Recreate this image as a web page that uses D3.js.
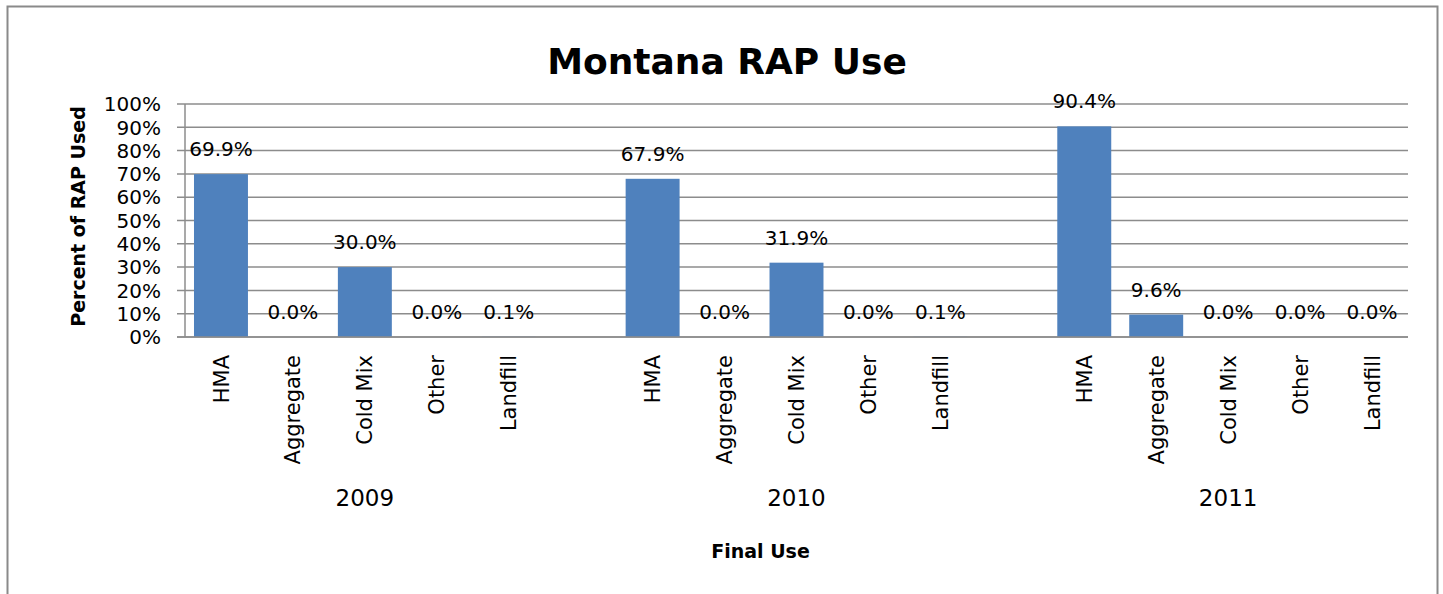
<!DOCTYPE html>
<html>
<head>
<meta charset="utf-8">
<script src="https://cdn.jsdelivr.net/npm/d3@7"></script>
<style>
  body { margin: 0; background: #fff; }
  text { font-family: 'DejaVu Sans', sans-serif; fill: #000; }
</style>
</head>
<body>
<svg id="drawing_region"></svg>
<script>
// chart data
const years = ['2009', '2010', '2011'];
const uses = ['HMA', 'Aggregate', 'Cold Mix', 'Other', 'Landfill'];
const values2009 = [69.9, 0.0, 30.0, 0.0, 0.1];
const values2010 = [67.9, 0.0, 31.9, 0.0, 0.1];
const values2011 = [90.4, 9.6, 0.0, 0.0, 0.0];
const yTicks = [0, 10, 20, 30, 40, 50, 60, 70, 80, 90, 100];

const valuesByYear = [values2009, values2010, values2011];

let data = [];
let keys = [];
years.forEach((year, i) => {
    uses.forEach((use, j) => {
        let key = year + '|' + use;
        keys.push(key);
        data.push({ key: key, year: year, use: use, value: valuesByYear[i][j] });
    });
    if (i < years.length - 1) keys.push('gap' + i);
});

const config = {
    width: 1443,
    height: 594,
    margin: { left: 185, right: 35, top: 104, bottom: 257 },
};

const svg = d3.select('#drawing_region')
    .attr('width', config.width)
    .attr('height', config.height);

// outer chart border
svg.append('rect')
    .attr('x', 7.5)
    .attr('y', 6.5)
    .attr('width', 1430)
    .attr('height', 600)
    .attr('fill', 'none')
    .attr('stroke', '#8a8a8a')
    .attr('stroke-width', 2);

const x0 = config.margin.left;
const x1 = config.width - config.margin.right;
const y0 = config.height - config.margin.bottom;
const y1 = config.margin.top;

const xscale = d3.scaleBand()
    .domain(keys)
    .range([x0, x1])
    .paddingInner(0.25)
    .paddingOuter(0.125);

const yscale = d3.scaleLinear()
    .domain([0, 100])
    .range([y0, y1]);

// gridlines
svg.append('g')
    .selectAll('line')
    .data(yTicks)
    .enter()
    .append('line')
    .attr('x1', x0 - 8)
    .attr('x2', x1)
    .attr('y1', d => yscale(d))
    .attr('y2', d => yscale(d))
    .attr('stroke', '#8c8c8c')
    .attr('stroke-width', 1.5);

// y axis line
svg.append('line')
    .attr('x1', x0).attr('x2', x0)
    .attr('y1', y1).attr('y2', y0)
    .attr('stroke', '#8c8c8c')
    .attr('stroke-width', 1.5);

// y tick labels
svg.append('g')
    .selectAll('text')
    .data(yTicks)
    .enter()
    .append('text')
    .attr('x', x0 - 24)
    .attr('y', d => yscale(d))
    .attr('dy', '0.36em')
    .attr('text-anchor', 'end')
    .style('font-size', '20px')
    .text(d => d + '%');

// bars
svg.append('g')
    .selectAll('rect')
    .data(data)
    .enter()
    .append('rect')
    .attr('x', d => xscale(d.key))
    .attr('y', d => yscale(d.value))
    .attr('width', xscale.bandwidth())
    .attr('height', d => yscale(0) - yscale(d.value))
    .attr('fill', '#4f81bd');

// redraw x axis line over the bars
svg.append('line')
    .attr('x1', x0 - 8).attr('x2', x1)
    .attr('y1', y0).attr('y2', y0)
    .attr('stroke', '#8c8c8c')
    .attr('stroke-width', 1.5);

// data labels
svg.append('g')
    .selectAll('text')
    .data(data)
    .enter()
    .append('text')
    .attr('x', d => xscale(d.key) + xscale.bandwidth() / 2)
    .attr('y', d => yscale(d.value) - 18)
    .attr('text-anchor', 'middle')
    .style('font-size', '20px')
    .text(d => d3.format('.1f')(d.value) + '%');

// category labels (rotated)
svg.append('g')
    .selectAll('text')
    .data(data)
    .enter()
    .append('text')
    .attr('transform', d => `translate(${xscale(d.key) + xscale.bandwidth() / 2}, ${y0 + 18}) rotate(-90)`)
    .attr('dy', '0.36em')
    .attr('text-anchor', 'end')
    .style('font-size', '21px')
    .text(d => d.use);

// year labels
svg.append('g')
    .selectAll('text')
    .data(years)
    .enter()
    .append('text')
    .attr('x', d => xscale(d + '|' + uses[2]) + xscale.bandwidth() / 2)
    .attr('y', 506)
    .attr('text-anchor', 'middle')
    .style('font-size', '23px')
    .text(d => d);

// title
svg.append('text')
    .attr('x', 727)
    .attr('y', 74)
    .attr('text-anchor', 'middle')
    .style('font-size', '36px')
    .style('font-weight', 'bold')
    .text('Montana RAP Use');

// axis titles
svg.append('text')
    .attr('transform', `translate(78, ${(y0 + y1) / 2 - 4}) rotate(-90)`)
    .attr('dy', '0.36em')
    .attr('text-anchor', 'middle')
    .style('font-size', '19px')
    .style('font-weight', 'bold')
    .text('Percent of RAP Used');

svg.append('text')
    .attr('x', (x0 + x1) / 2 - 36)
    .attr('y', 558)
    .attr('text-anchor', 'middle')
    .style('font-size', '19px')
    .style('font-weight', 'bold')
    .text('Final Use');
</script>
</body>
</html>
